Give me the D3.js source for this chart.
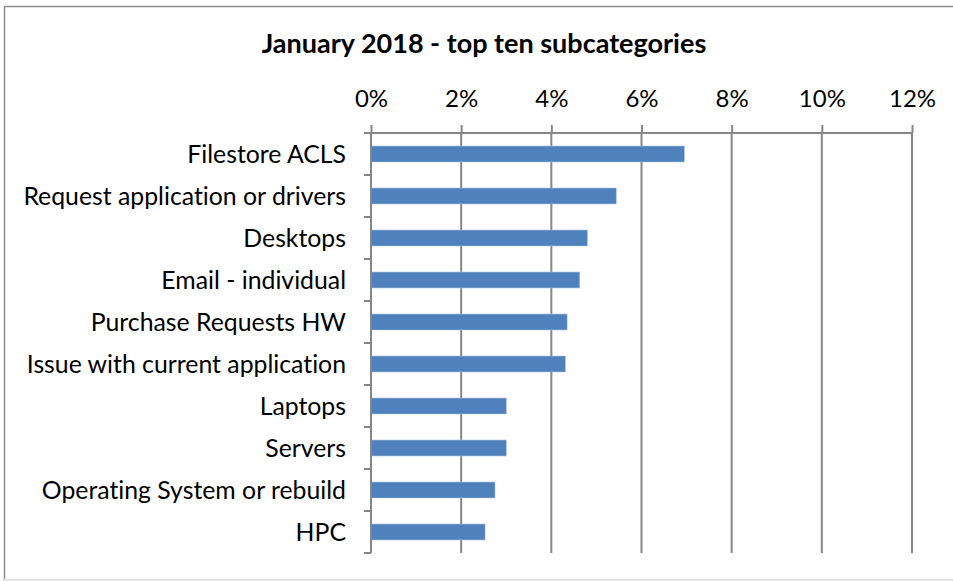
<!DOCTYPE html>
<html>
<head>
<meta charset="utf-8">
<script src="https://cdn.jsdelivr.net/npm/d3@7"></script>
<style>
  html, body { margin: 0; padding: 0; background: #fff; }
  svg { display: block; }
  text { font-family: Lato, "Open Sans", sans-serif; fill: #000; font-variant-ligatures: none; font-feature-settings: "liga" 0; }
</style>
</head>
<body>
<svg id="chart" width="953" height="581"></svg>
<script>
// Top ten ticket subcategories, January 2018 (share of all tickets)
const categories = [
  "Filestore ACLS",
  "Request application or drivers",
  "Desktops",
  "Email - individual",
  "Purchase Requests HW",
  "Issue with current application",
  "Laptops",
  "Servers",
  "Operating System or rebuild",
  "HPC"
];
const shares = [0.0695, 0.0544, 0.0480, 0.0463, 0.0435, 0.0431, 0.0300, 0.0300, 0.0275, 0.0253];
const tickValues = [0, 0.02, 0.04, 0.06, 0.08, 0.10, 0.12];
const chartTitle = "January 2018 - top ten subcategories";

const svg = d3.select("#chart");
const W = 953, H = 581;
const margin = { top: 133, right: 40, bottom: 28, left: 371 };

// outer chart frame (left and top edges darker, bottom edge faint)
svg.append("rect")
  .attr("x", 4.5).attr("y", 6.5)
  .attr("width", W).attr("height", H - 7)
  .attr("fill", "#fff")
  .attr("stroke", "#8c8c8c").attr("stroke-width", 1.5);
svg.append("line")
  .attr("x1", 4).attr("x2", W)
  .attr("y1", H - 1).attr("y2", H - 1)
  .attr("stroke", "#e4e4e4").attr("stroke-width", 2);

const x = d3.scaleLinear().domain([0, 0.12]).range([margin.left, 912]);
const y = d3.scaleBand().domain(categories).range([margin.top, H - margin.bottom]).paddingInner(0.62).paddingOuter(0.31);
const yTicks = d3.scaleBand().domain(categories).range([margin.top, H - margin.bottom]);

svg.append("text")
  .attr("x", 484).attr("y", 53)
  .attr("text-anchor", "middle")
  .attr("font-size", 27).attr("font-weight", "bold")
  .text(chartTitle);

// vertical gridlines
svg.append("g")
  .selectAll("line")
  .data(tickValues.slice(1))
  .join("line")
  .attr("x1", d => x(d)).attr("x2", d => x(d))
  .attr("y1", margin.top).attr("y2", H - margin.bottom)
  .attr("stroke", "#868686").attr("stroke-width", 2);

// bars
svg.append("g")
  .selectAll("rect")
  .data(categories)
  .join("rect")
  .attr("x", x(0))
  .attr("y", d => y(d))
  .attr("width", (d, i) => x(shares[i]) - x(0))
  .attr("height", y.bandwidth())
  .attr("fill", "#4f81bd")
  .attr("stroke", "#a7c0e0").attr("stroke-width", 0.6);

// top value axis
const xAxis = d3.axisTop(x)
  .tickValues(tickValues)
  .tickFormat(d3.format(".0%"))
  .tickSizeOuter(0)
  .tickSize(8)
  .tickPadding(18);
const gx = svg.append("g").attr("transform", `translate(0,${margin.top})`).call(xAxis);
gx.select(".domain").attr("stroke", "#868686").attr("stroke-width", 2).attr("d", `M${x(0) - 7},0H${x(0.12)}`);
gx.selectAll(".tick line").attr("stroke", "#868686").attr("stroke-width", 2);
gx.selectAll(".tick text").attr("font-size", 24).attr("font-family", "Lato, sans-serif").attr("fill", "#000");

// left category axis
const gy = svg.append("g");
gy.append("line")
  .attr("x1", x(0)).attr("x2", x(0))
  .attr("y1", margin.top).attr("y2", H - margin.bottom)
  .attr("stroke", "#868686").attr("stroke-width", 2);
gy.selectAll("line.tick")
  .data(categories)
  .join("line")
  .attr("class", "tick")
  .attr("x1", x(0) - 7).attr("x2", x(0))
  .attr("y1", d => yTicks(d) + yTicks.bandwidth())
  .attr("y2", d => yTicks(d) + yTicks.bandwidth())
  .attr("stroke", "#868686").attr("stroke-width", 2);
gy.selectAll("text")
  .data(categories)
  .join("text")
  .attr("x", x(0) - 25)
  .attr("y", d => yTicks(d) + yTicks.bandwidth() / 2)
  .attr("dy", "0.35em")
  .attr("text-anchor", "end")
  .attr("font-size", 24.8)
  .text(d => d);
</script>
</body>
</html>
